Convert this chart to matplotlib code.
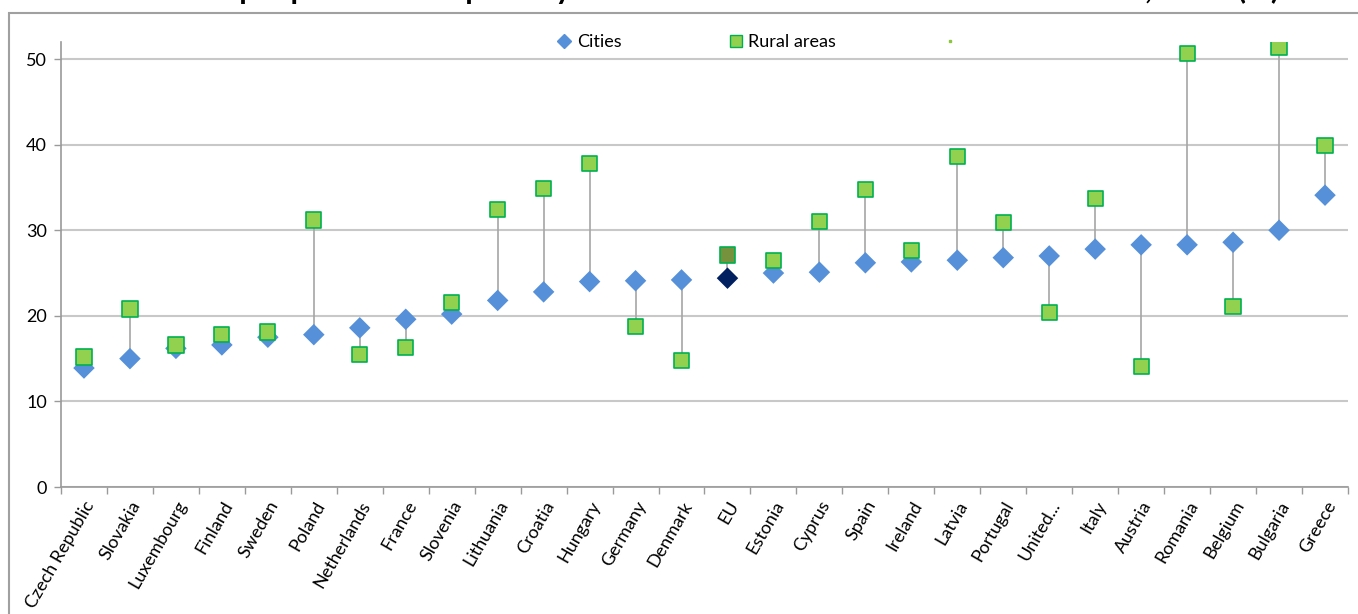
import numpy as np
import matplotlib.pyplot as plt
from matplotlib.lines import Line2D
from matplotlib.patches import Rectangle

plt.rcParams['font.family'] = ['Lato', 'DejaVu Sans']

countries = ['Czech Republic', 'Slovakia', 'Luxembourg', 'Finland', 'Sweden', 'Poland',
             'Netherlands', 'France', 'Slovenia', 'Lithuania', 'Croatia', 'Hungary',
             'Germany', 'Denmark', 'EU', 'Estonia', 'Cyprus', 'Spain', 'Ireland', 'Latvia',
             'Portugal', 'United...', 'Italy', 'Austria', 'Romania', 'Belgium', 'Bulgaria',
             'Greece']
cities = [13.9, 15.0, 16.2, 16.6, 17.5, 17.8, 18.6, 19.6, 20.2, 21.8, 22.8, 24.0,
          24.1, 24.2, 24.4, 25.0, 25.1, 26.2, 26.3, 26.5, 26.8, 27.0, 27.8, 28.3,
          28.3, 28.6, 30.0, 34.1]
rural = [15.2, 20.8, 16.6, 17.8, 18.1, 31.2, 15.5, 16.3, 21.6, 32.4, 34.9, 37.8,
         18.8, 14.8, 27.1, 26.5, 31.0, 34.8, 27.6, 38.6, 30.9, 20.4, 33.7, 14.1,
         50.7, 21.1, 51.4, 39.9]

title = 'Share of people at risk of poverty or social exclusion in cities and rural areas, 2015 (%)'

blue = '#5590D9'
green = '#92D050'
green_edge = '#00B050'

fig = plt.figure(figsize=(13.58, 6.14), dpi=100)
ax = fig.add_axes([61/1358, 1 - 487/614, (1348 - 61)/1358, (487 - 42)/614])

x = np.arange(len(countries))
ax.vlines(x, cities, rural, color='#a6a6a6', lw=1.2, zorder=2)

c_col = [('#002060' if c == 'EU' else blue) for c in countries]
r_col = [('#76923C' if c == 'EU' else green) for c in countries]
ax.scatter(x, cities, marker='D', s=120, c=c_col, linewidths=0, zorder=3)
ax.scatter(x, rural, marker='s', s=120, c=r_col, edgecolors=green_edge,
           linewidths=1.2, zorder=4)

ax.set_xlim(-0.5, len(countries) - 0.5)
ax.set_ylim(0, 52)
ax.set_yticks([0, 10, 20, 30, 40, 50])
ax.yaxis.grid(True, color='#c8c8c8', lw=1.5)
ax.set_axisbelow(True)

ax.set_xticks(x)
ax.set_xticklabels(countries, rotation=60, ha='right', rotation_mode='anchor')
ax.set_xticks(np.arange(len(countries) + 1) - 0.5, minor=True)
ax.tick_params(axis='x', which='major', length=0, pad=8, labelsize=13)
ax.tick_params(axis='x', which='minor', length=5, color='#9a9a9a', width=1)
ax.tick_params(axis='y', length=5, color='#9a9a9a', width=1, labelsize=13, pad=5)

for s in ['top', 'right']:
    ax.spines[s].set_visible(False)
for s in ['left', 'bottom']:
    ax.spines[s].set_color('#9a9a9a')
    ax.spines[s].set_linewidth(1.2)

handles = [Line2D([], [], ls='none', marker='D', color=blue, markersize=7),
           Line2D([], [], ls='none', marker='s', markerfacecolor=green,
                  markeredgecolor=green_edge, markersize=9),
           Line2D([], [], ls='none', marker='s', color='#8cc63f', markersize=2)]
ax.legend(handles, ['Cities', 'Rural areas', ''], ncol=3, frameon=False,
          loc='center', bbox_to_anchor=(0.543, 1.0), fontsize=13,
          handlelength=0.8, handletextpad=0.3, columnspacing=5.9)

# outer chart frame (only top and left edges visible)
fig.add_artist(Rectangle((9/1358, -0.1), 1.2, 1.1 - 13/614, transform=fig.transFigure,
                         fill=False, edgecolor='#a0a0a0', lw=1.5))

# title, mostly cut off above the picture
fig.text(0.515, 1 + 1/614, title, ha='center', va='baseline',
         fontsize=22, fontweight='bold')

fig.savefig('out.png')
